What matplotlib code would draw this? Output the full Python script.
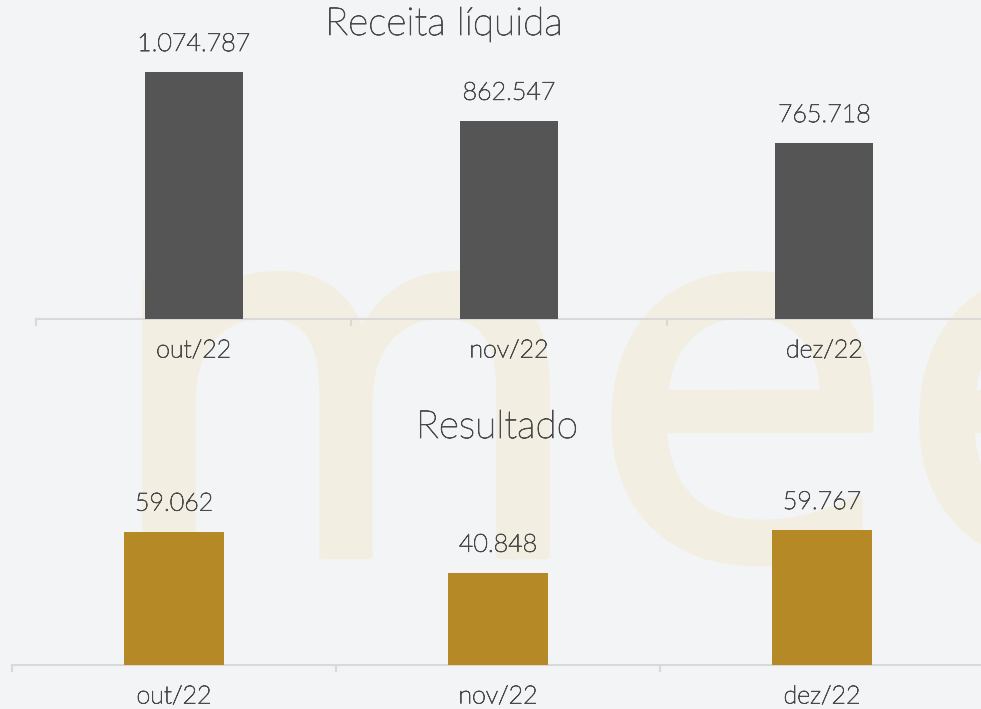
import matplotlib
matplotlib.use("Agg")
import matplotlib.pyplot as plt
import matplotlib.patheffects as pe
import numpy as np

months = ["out/22", "nov/22", "dez/22"]
receita = [1074787, 862547, 765718]
resultado = [59062, 40848, 59767]
receita_labels = ["1.074.787", "862.547", "765.718"]
resultado_labels = ["59.062", "40.848", "59.767"]

W, H = 981, 709
BG = "#f3f4f6"
WM = "#f3eee2"
TXT = "#4a4a4a"
FONT = "Lato"
WEIGHT = "light"
THICK = [pe.withStroke(linewidth=0.6, foreground=TXT)]

fig = plt.figure(figsize=(W / 100, H / 100), dpi=100, facecolor=BG)

# watermark in a background axes
bg = fig.add_axes([0, 0, 1, 1], zorder=-5)
bg.set_axis_off()
bg.set_xlim(0, 1)
bg.set_ylim(0, 1)
bg.text(101 / W, 1 - 555 / H, "mee", fontsize=360, family="DejaVu Sans",
        color=WM, ha="left", va="baseline", transform=bg.transAxes,
        path_effects=[pe.Stroke(linewidth=6, foreground=WM), pe.Normal()])


def px_axes(x0, x1, ytop, ybot):
    ax = fig.add_axes([x0 / W, 1 - ybot / H, (x1 - x0) / W, (ybot - ytop) / H])
    ax.set_zorder(2)
    return ax


def draw(ax, vals, labels, color, h_px, maxval, maxpx, label_off):
    x = np.arange(len(vals))
    ax.set_facecolor("none")
    ax.bar(x, vals, width=0.31, color=color, edgecolor="none", zorder=3)
    ax.set_xlim(-0.5, len(vals) - 0.5)
    ax.set_ylim(0, maxval * h_px / maxpx)
    for s in ["top", "right", "left"]:
        ax.spines[s].set_visible(False)
    ax.spines["bottom"].set_color("#d9d9d9")
    ax.spines["bottom"].set_linewidth(1.5)
    ax.set_yticks([])
    ax.set_xticks(x)
    ax.set_xticklabels(months, fontsize=18, color=TXT, family=FONT, fontweight=WEIGHT)
    for t in ax.get_xticklabels():
        t.set_path_effects(THICK)
    ax.tick_params(axis="x", which="major", length=0, pad=14)
    ax.set_xticks(np.arange(-0.5, len(vals)), minor=True)
    ax.tick_params(axis="x", which="minor", length=5, width=1.5, color="#d9d9d9")
    for xi, v, lab in zip(x, vals, labels):
        ax.annotate(lab, (xi, v), xytext=(0, label_off), textcoords="offset pixels",
                    ha="center", va="bottom", fontsize=18, color=TXT,
                    family=FONT, fontweight=WEIGHT, path_effects=THICK)


ax1 = px_axes(36, 982, 30, 319)
draw(ax1, receita, receita_labels, "#555555", 289, max(receita), 247, 16)
fig.text(444 / W, 1 - 24 / H, "Receita líquida", ha="center", va="center",
         fontsize=28, color=TXT, family=FONT, fontweight=WEIGHT, zorder=5,
         path_effects=THICK)

ax2 = px_axes(12, 984, 450, 665)
draw(ax2, resultado, resultado_labels, "#b58a26", 215, max(resultado), 135, 16)
fig.text(497 / W, 1 - 427 / H, "Resultado", ha="center", va="center",
         fontsize=28, color=TXT, family=FONT, fontweight=WEIGHT, zorder=5,
         path_effects=THICK)

fig.savefig("out.png", dpi=100, facecolor=BG)
